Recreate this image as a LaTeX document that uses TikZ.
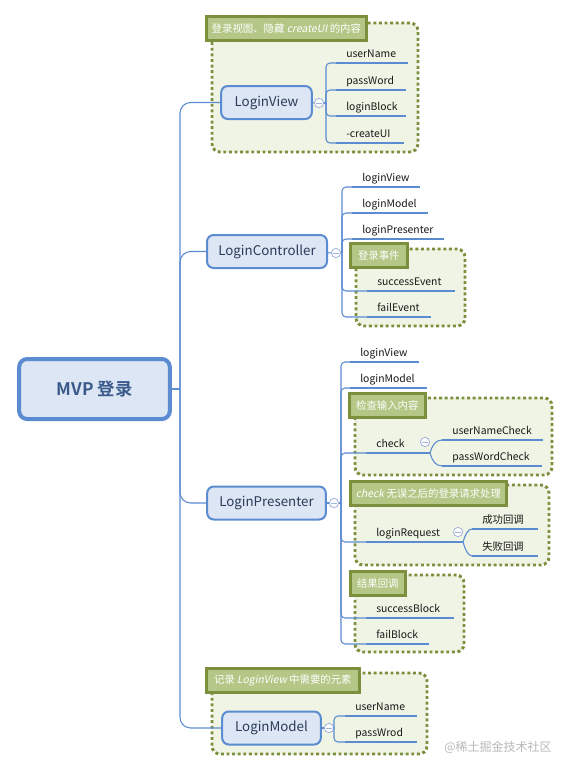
\documentclass[tikz,border=0pt]{standalone}
\usepackage{fontspec}
\setmainfont{Noto Sans CJK SC}[AutoFakeSlant=0.2]
\newfontfamily\rootfont{Noto Sans CJK SC Bold}
\usepackage{tikz}

\definecolor{linkblue}{HTML}{5B8BD0}
\definecolor{topicfill}{HTML}{DCE6F4}
\definecolor{topictext}{HTML}{2B3B58}
\definecolor{roottext}{HTML}{3A5A8C}
\definecolor{grpfill}{HTML}{EFF4E4}
\definecolor{grpline}{HTML}{7B8F3C}
\definecolor{labfill}{HTML}{B4C787}
\definecolor{foldline}{HTML}{A0B2E0}
\definecolor{markgray}{HTML}{B8B8B8}

\begin{document}
\begin{tikzpicture}[x=0.75pt,y=0.75pt,yscale=-1,xscale=1,
  link/.style={draw=linkblue, line width=0.8pt},
  uline/.style={draw=linkblue, line width=2.2pt},
  root/.style={draw=linkblue, line width=3pt, fill=topicfill, rounded corners=6pt, minimum width=113pt, minimum height=45pt, font=\fontsize{13}{15}\rootfont, text=roottext},
  topic/.style={draw=linkblue, line width=1.5pt, fill=topicfill, rounded corners=5pt, minimum height=24.75pt, font=\fontsize{10}{12}\selectfont, text=topictext},
  leaf/.style={anchor=south west, inner xsep=7.5pt, inner ysep=2.5pt, text height=6pt, text depth=1.8pt, text width=#1, align=left, font=\fontsize{7.8}{9}\selectfont, text=black!90},
  grp/.style={draw=grpline, fill=grpfill, line width=2.2pt, dash pattern=on 2.2pt off 2pt, rounded corners=6pt},
  lab/.style={anchor=north west, draw=grpline, fill=labfill, line width=2pt, minimum height=18pt, inner sep=2pt, text=white, font=\fontsize{7.8}{9}\selectfont},
  fold/.style={circle, draw=foldline, fill=white, line width=0.6pt, minimum size=7pt, inner sep=0pt, path picture={\draw[foldline, line width=0.6pt] ([xshift=-2pt]path picture bounding box.center) -- ([xshift=2pt]path picture bounding box.center);}},
]
\useasboundingbox (0,0) rectangle (570,772);

% groups
\draw[grp] (212,23) rectangle (418,152);
\draw[grp] (356,249) rectangle (465,326);
\draw[grp] (355,398) rectangle (552,475);
\draw[grp] (355,485) rectangle (549,565);
\draw[grp] (355,575) rectangle (464,652);
\draw[grp] (212,673) rectangle (427,754);

% root and main topics
\node[root] (mvp) at (94.5,389) {MVP 登录};
\node[topic, minimum width=68pt] (lv) at (266.5,102.5) {LoginView};
\node[topic, minimum width=90pt] (lc) at (267,251.5) {LoginController};
\node[topic, minimum width=89pt] (lp) at (266.5,503) {LoginPresenter};
\node[topic, minimum width=74pt] (lm) at (271.5,728) {LoginModel};

\coordinate (trunk) at (180,389);
\draw[link] (mvp) -- (trunk);
\foreach \t in {lv,lc,lp,lm}
  \draw[link, rounded corners=8pt] (trunk) |- (\t.west);

% fold marks and bracket joints
\node[fold] (cv) at (319,103) {};
\node[fold] (cc) at (336,253) {};
\node[fold] (cp) at (334,503) {};
\node[fold] (cm) at (329,728) {};
\coordinate (lvb) at (326,103);
\coordinate (lcb) at (342,252);
\coordinate (lpb) at (341,503);
\coordinate (lmb) at (334,728);
\foreach \t/\c/\b in {lv/cv/lvb,lc/cc/lcb,lp/cp/lpb,lm/cm/lmb}{
  \draw[link] (\t) -- (\c);
  \draw[link] (\c) -- (\b);
}

% LoginView
\node[leaf=38.25pt] (lv1) at (336,63) {userName};
\node[leaf=36.75pt] (lv2) at (336,90) {passWord};
\node[leaf=36.75pt] (lv3) at (336,116) {loginBlock};
\node[leaf=35.25pt] (lv4) at (336,143) {-createUI};
\node[lab, minimum width=120pt] (lvlab) at (205,15) {登录视图、隐藏 \textit{createUI} 的内容};

% LoginController
\node[leaf=35.25pt] (lc1) at (352,187) {loginView};
\node[leaf=41.25pt] (lc2) at (352,213) {loginModel};
\node[leaf=53.25pt] (lc3) at (352,239) {loginPresenter};
\node[leaf=50.25pt] (lc4) at (367,291) {successEvent};
\node[leaf=32.25pt] (lc5) at (367,317) {failEvent};
\node[lab, minimum width=42.75pt] (lclab) at (349,242) {登录事件};

% LoginPresenter
\node[leaf=36pt] (lp1) at (350,362) {loginView};
\node[leaf=42pt] (lp2) at (350,388) {loginModel};
\node[leaf=23.25pt] (chk) at (366,453) {check};
\node[leaf=60pt] (unc) at (442,440) {userNameCheck};
\node[leaf=59.25pt] (pwc) at (442,466) {passWordCheck};
\node[leaf=48pt] (req) at (366,542) {loginRequest};
\node[leaf=33.75pt] (okcb) at (472,529) {成功回调};
\node[leaf=33.75pt] (failcb) at (472,556) {失败回调};
\node[leaf=50.25pt] (lp5) at (366,618) {successBlock};
\node[leaf=31.5pt] (lp6) at (366,644) {failBlock};
\node[lab, minimum width=57pt] (chklab) at (348,392) {检查输入内容};
\node[lab, minimum width=117pt] (reqlab) at (349,480) {\textit{check} 无误之后的登录请求处理};
\node[lab, minimum width=41.25pt] (reslab) at (349,570) {结果回调};
\node[fold] (ck) at (425,442) {};
\node[fold] (cr) at (458,532) {};
\coordinate (chkj) at (430,453);
\coordinate (reqj) at (463,542);

% LoginModel
\node[leaf=38.25pt] (lm1) at (345,716) {userName};
\node[leaf=38.25pt] (lm2) at (345,742) {passWrod};
\node[lab, minimum width=114.75pt] (lmlab) at (205,667) {记录 \textit{LoginView} 中需要的元素};

% brackets
\foreach \n in {lv1,lv2,lv3,lv4}
  \draw[link, rounded corners=3pt] (lvb) |- (\n.south west);
\foreach \n in {lc1,lc2,lc3,lc4,lc5}
  \draw[link, rounded corners=3pt] (lcb) |- (\n.south west);
\foreach \n in {lp1,lp2,chk,req,lp5,lp6}
  \draw[link, rounded corners=3pt] (lpb) |- (\n.south west);
\foreach \n in {lm1,lm2}
  \draw[link, rounded corners=3pt] (lmb) |- (\n.south west);

\draw[link] (chk.south east) -- (chkj);
\draw[link] (chkj) .. controls (432,446) and (435,440) .. (unc.south west);
\draw[link] (chkj) .. controls (432,460) and (435,466) .. (pwc.south west);
\draw[link] (req.south east) -- (reqj);
\draw[link] (reqj) .. controls (465,535) and (468,529) .. (okcb.south west);
\draw[link] (reqj) .. controls (465,549) and (468,556) .. (failcb.south west);

% underlines
\foreach \n in {lv1,lv2,lv3,lv4,lc1,lc2,lc3,lc4,lc5,lp1,lp2,chk,unc,pwc,req,okcb,failcb,lp5,lp6,lm1,lm2}
  \draw[uline] (\n.south west) -- (\n.south east);

\node[text=markgray, font=\fontsize{9}{11}\selectfont] (mark) at (498,747) {@稀土掘金技术社区};
\end{tikzpicture}
\end{document}
